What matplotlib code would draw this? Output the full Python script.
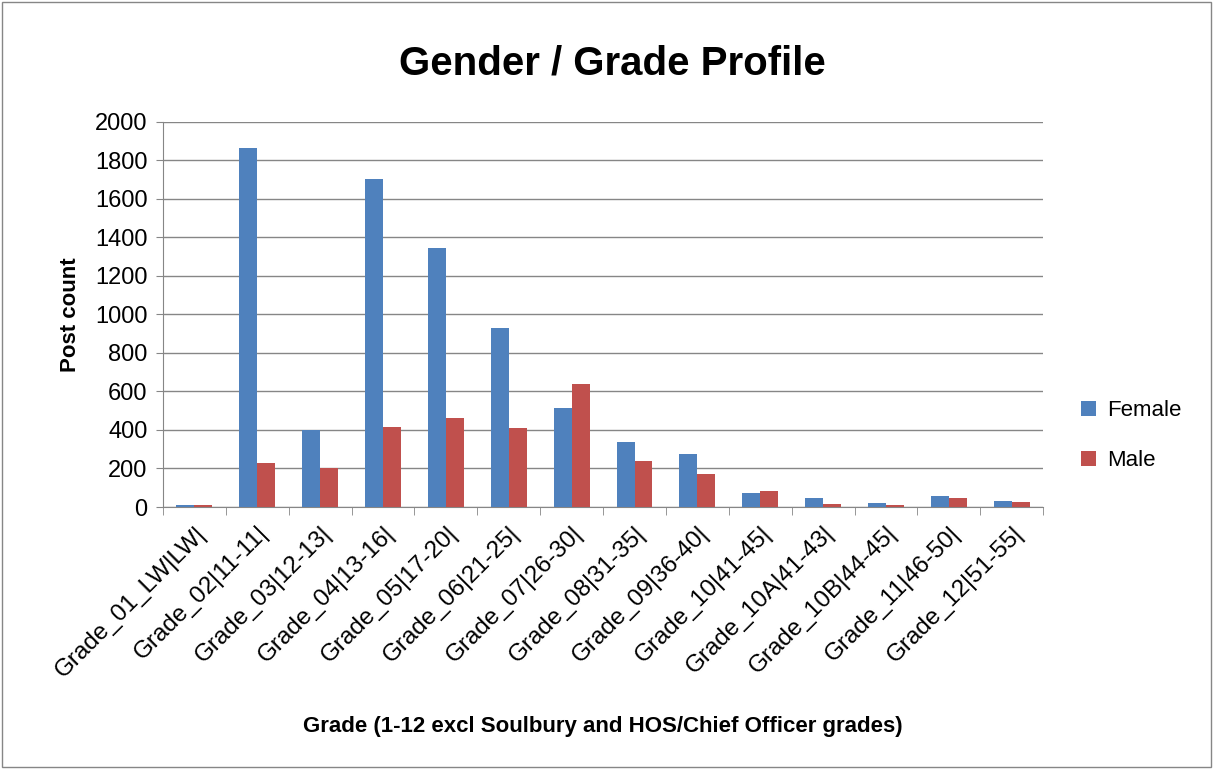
import numpy as np
import matplotlib.pyplot as plt

grades = ['Grade_01_LW|LW|', 'Grade_02|11-11|', 'Grade_03|12-13|', 'Grade_04|13-16|',
          'Grade_05|17-20|', 'Grade_06|21-25|', 'Grade_07|26-30|', 'Grade_08|31-35|',
          'Grade_09|36-40|', 'Grade_10|41-45|', 'Grade_10A|41-43|', 'Grade_10B|44-45|',
          'Grade_11|46-50|', 'Grade_12|51-55|']
female = [9, 1865, 400, 1705, 1345, 930, 516, 336, 276, 74, 48, 22, 55, 29]
male = [9, 229, 200, 416, 462, 409, 638, 241, 174, 81, 14, 9, 48, 28]

plt.rcParams['font.family'] = ['Liberation Sans', 'DejaVu Sans']

fig = plt.figure(figsize=(12.13, 7.69), dpi=100)
ax = fig.add_axes([0.1344, 0.3407, 0.7256, 0.5007])

x = np.arange(len(grades))
w = 0.2857
ax.bar(x - w/2, female, w, color='#4F81BD', label='Female', zorder=3)
ax.bar(x + w/2, male, w, color='#C0504D', label='Male', zorder=3)

ax.set_xlim(-0.5, len(grades) - 0.5)
ax.set_ylim(0, 2000)
ax.set_yticks(range(0, 2001, 200))
ax.yaxis.grid(True, color='#868686', linewidth=1, zorder=0)
ax.tick_params(axis='y', labelsize=17, length=5, color='#868686', pad=6)

ax.set_xticks(x)
ax.set_xticklabels(grades, rotation=45, ha='right', rotation_mode='anchor', fontsize=17.5)
ax.tick_params(axis='x', length=0, pad=11)
ax.set_xticks(np.arange(-0.5, len(grades), 1), minor=True)
ax.tick_params(axis='x', which='minor', length=6, color='#868686')

for s in ['top', 'right']:
    ax.spines[s].set_visible(False)
for s in ['left', 'bottom']:
    ax.spines[s].set_color('#868686')

ax.set_ylabel('Post count', fontsize=16, fontweight='bold', labelpad=10)
ax.set_xlabel('Grade (1-12 excl Soulbury and HOS/Chief Officer grades)', fontsize=16, fontweight='bold', labelpad=25)
fig.text(0.505, 0.918, 'Gender / Grade Profile', ha='center', va='center', fontsize=29, fontweight='bold')

ax.legend(loc='center left', bbox_to_anchor=(1.02, 0.185), frameon=False, fontsize=16,
          handlelength=0.7, handleheight=0.7, labelspacing=1.3, handletextpad=0.5)

fig.add_artist(plt.Rectangle((0.002, 0.002), 0.996, 0.996, transform=fig.transFigure,
                             fill=False, edgecolor='#868686', linewidth=1))

fig.savefig('out.png', dpi=100)
